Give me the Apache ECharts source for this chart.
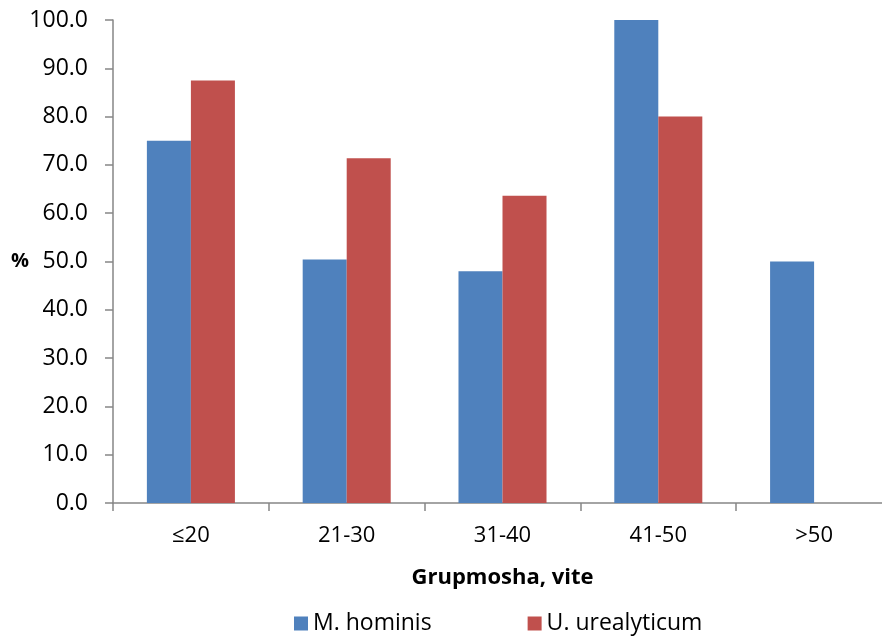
<!DOCTYPE html>
<html>
<head>
<meta charset="utf-8">
<script src="https://cdn.jsdelivr.net/npm/echarts@6/dist/echarts.min.js"></script>
<style>html,body{margin:0;padding:0;background:#fff;overflow:hidden}#c{width:882px;height:636px}</style>
</head>
<body>
<div id="c"></div>
<script>
const categories = ['≤20', '21-30', '31-40', '41-50', '>50'];
const mHominis = [75.0, 50.4, 48.0, 100.0, 50.0];
const uUrealyticum = [87.5, 71.4, 63.6, 80.0, 0];
const seriesNames = ['M. hominis', 'U. urealyticum'];
const yTicks = { min: 0, max: 100, interval: 10 };

const font = '"Open Sans", "Noto Sans", sans-serif';
const chart = echarts.init(document.getElementById('c'), null, { renderer: 'canvas' });
chart.setOption({
  animation: false,
  textStyle: { fontFamily: font },
  grid: { left: 113, top: 20, right: -10, bottom: 133, containLabel: false, outerBoundsMode: 'none' },
  legend: {
    top: 607, left: 289,
    itemWidth: 14, itemHeight: 14, itemGap: 96,
    icon: 'rect',
    textStyle: { fontFamily: font, fontSize: 23, color: '#000' },
    data: seriesNames
  },
  xAxis: {
    type: 'category',
    data: categories,
    name: 'Grupmosha, vite',
    nameLocation: 'middle',
    nameGap: 64,
    nameMoveOverlap: false,
    nameTextStyle: { fontFamily: font, fontSize: 22, fontWeight: 'bold', color: '#000' },
    axisLine: { lineStyle: { color: '#868686', width: 1.5 } },
    axisTick: { show: true, length: 8, lineStyle: { color: '#868686', width: 1.5 } },
    axisLabel: { fontFamily: font, fontSize: 22, color: '#000', margin: 22 }
  },
  yAxis: {
    type: 'value',
    min: yTicks.min, max: yTicks.max, interval: yTicks.interval,
    name: '%',
    nameLocation: 'middle',
    nameRotate: 0,
    nameGap: 84,
    nameMoveOverlap: false,
    nameTextStyle: { fontFamily: font, fontSize: 20, fontWeight: 'bold', color: '#000' },
    splitLine: { show: false },
    axisLine: { show: true, lineStyle: { color: '#868686', width: 1.5 } },
    axisTick: { show: true, length: 8, lineStyle: { color: '#868686', width: 1.5 } },
    axisLabel: { fontFamily: font, fontSize: 23, color: '#000', margin: 25,
      formatter: v => v.toFixed(1) }
  },
  series: [
    { name: seriesNames[0], type: 'bar', data: mHominis, barGap: '0%', barCategoryGap: '43.5%',
      itemStyle: { color: '#4F81BD' } },
    { name: seriesNames[1], type: 'bar', data: uUrealyticum, barGap: '0%', barCategoryGap: '43.5%',
      itemStyle: { color: '#C0504D' } }
  ]
});
</script>
</body>
</html>
